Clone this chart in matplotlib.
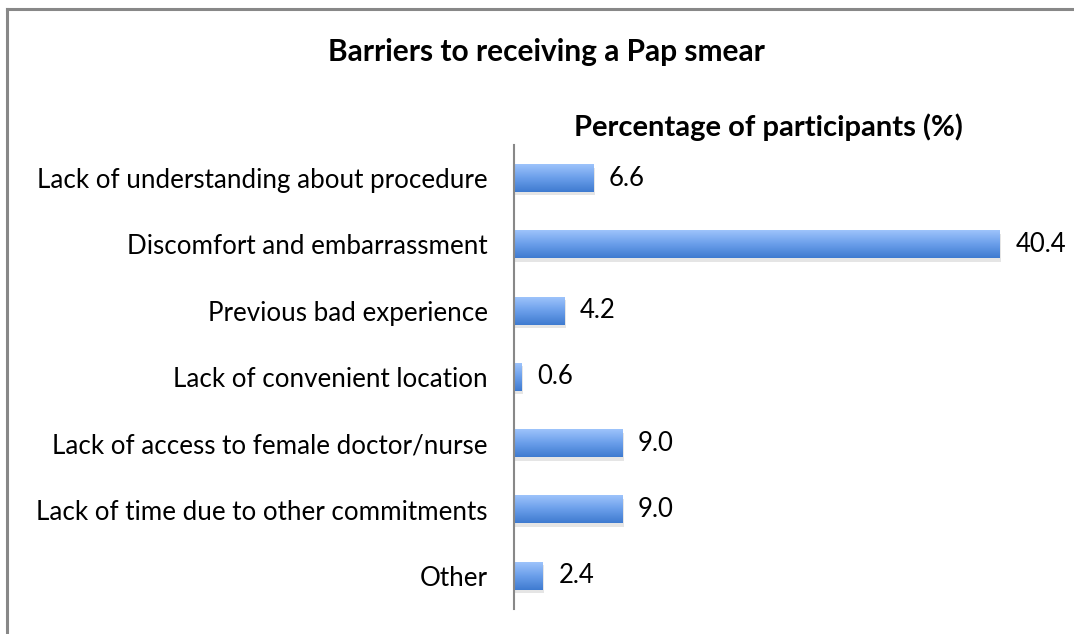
import numpy as np
import matplotlib.pyplot as plt
from matplotlib.lines import Line2D

categories = ["Lack of understanding about procedure",
              "Discomfort and embarrassment",
              "Previous bad experience",
              "Lack of convenient location",
              "Lack of access to female doctor/nurse",
              "Lack of time due to other commitments",
              "Other"]
values = [6.6, 40.4, 4.2, 0.6, 9.0, 9.0, 2.4]

plt.rcParams['font.family'] = ['Lato', 'DejaVu Sans']

fig = plt.figure(figsize=(10.74, 6.34), dpi=100)
ax = fig.add_axes([514 / 1074, 1 - 609 / 634, (1055 - 514) / 1074, (609 - 145) / 634])

y = np.arange(len(categories))
h = 0.42
# vertical gradient, light on top, darker at bottom
grad = np.linspace(0, 1, 64).reshape(-1, 1)
cmap = plt.matplotlib.colors.LinearSegmentedColormap.from_list(
    "bar", ["#9dc3fb", "#6a9eea", "#3f7bd0"])
for yi, v in zip(y, values):
    # soft shadow
    ax.add_patch(plt.Rectangle((0.12, yi - h / 2 + 0.05), v, h, color="#000000",
                               alpha=0.10, lw=0, zorder=1))
    ax.imshow(grad, extent=(0, v, yi + h / 2, yi - h / 2), cmap=cmap,
              aspect="auto", zorder=2, interpolation="bilinear")
    ax.text(v + 1.3, yi, f"{v:.1f}", va="center", ha="left", fontsize=18.5,
            color="#000000")

ax.set_xlim(0, 45)
ax.set_ylim(len(categories) - 0.5, -0.5)
ax.set_yticks(y)
ax.set_yticklabels(categories, fontsize=18.7)
ax.tick_params(axis="y", length=0, pad=19)
ax.set_xticks([])
for s in ["top", "right", "bottom"]:
    ax.spines[s].set_visible(False)
ax.spines["left"].set_color("#888888")
ax.spines["left"].set_linewidth(1.5)

fig.text(546 / 1074, 1 - 52 / 634, "Barriers to receiving a Pap smear",
         ha="center", va="center", fontsize=21.5, fontweight="bold")
fig.text(768 / 1074, 1 - 127 / 634, "Percentage of participants (%)",
         ha="center", va="center", fontsize=21, fontweight="bold")

# outer chart border (cropped: only left and top visible)
fig.add_artist(Line2D([7 / 1074, 7 / 1074], [0, 1 - 9 / 634], color="#888888", lw=2.2))
fig.add_artist(Line2D([7 / 1074, 1], [1 - 9 / 634, 1 - 9 / 634], color="#888888", lw=2.2))

fig.savefig("out.png", dpi=100)
